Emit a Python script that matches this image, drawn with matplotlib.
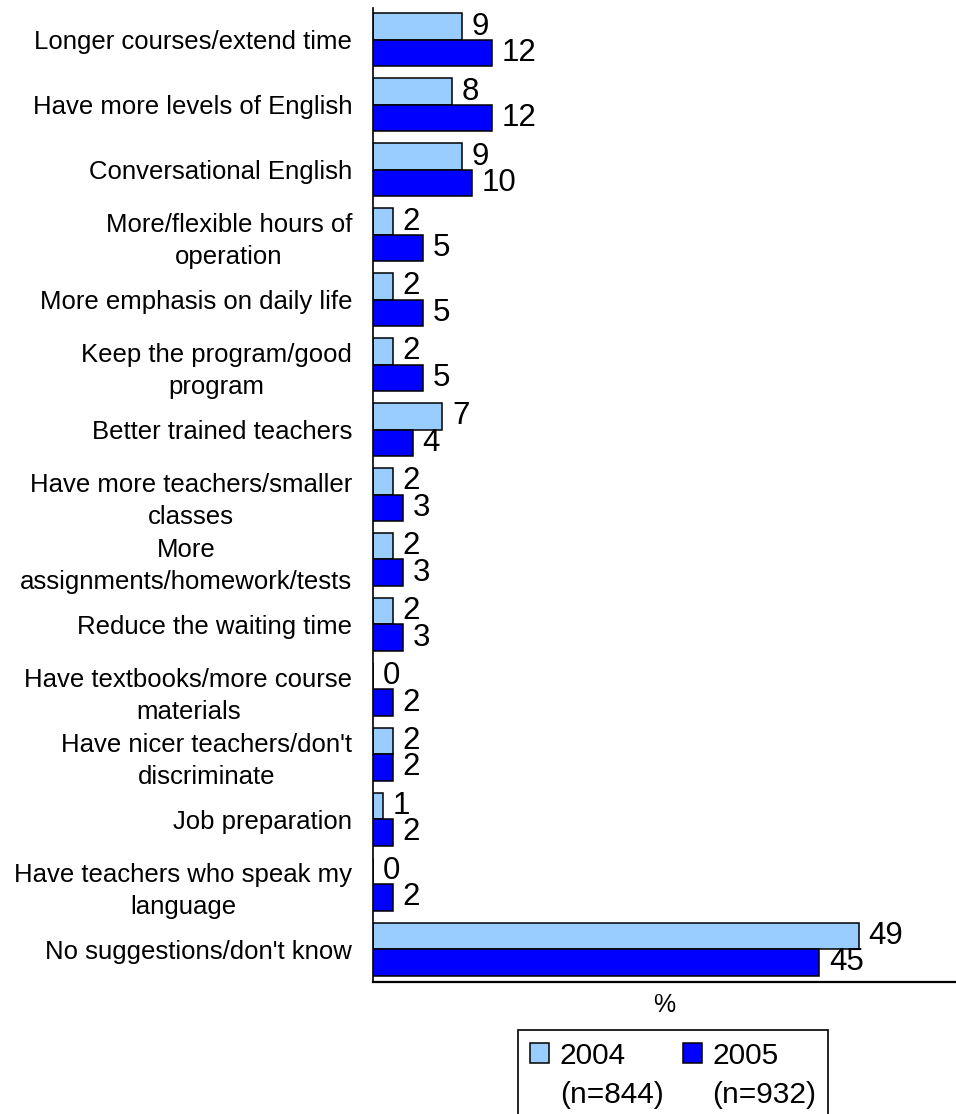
import matplotlib
matplotlib.use("Agg")
import matplotlib.pyplot as plt
import matplotlib.patches as mpatches
from matplotlib.legend_handler import HandlerPatch
import numpy as np

plt.rcParams['font.family'] = ['Liberation Sans', 'DejaVu Sans']

# Suggestions for improving the English program (% of respondents)
categories = [
    "Longer courses/extend time",
    "Have more levels of English",
    "Conversational English",
    "More/flexible hours of\noperation",
    "More emphasis on daily life",
    "Keep the program/good\nprogram",
    "Better trained teachers",
    "Have more teachers/smaller\nclasses",
    "More\nassignments/homework/tests",
    "Reduce the waiting time",
    "Have textbooks/more course\nmaterials",
    "Have nicer teachers/don't\ndiscriminate",
    "Job preparation",
    "Have teachers who speak my\nlanguage",
    "No suggestions/don't know",
]
values_2004 = [9, 8, 9, 2, 2, 2, 7, 2, 2, 2, 0, 2, 1, 0, 49]
values_2005 = [12, 12, 10, 5, 5, 5, 4, 3, 3, 3, 2, 2, 2, 2, 45]
series_labels = ["2004\n(n=844)", "2005\n(n=932)"]

LIGHT = "#99CCFF"
DARK = "#0000FF"

W, H = 956, 1114
fig = plt.figure(figsize=(W / 100, H / 100), dpi=100)
left, right, top, bottom = 373, 956, 7.5, 981.5
ax = fig.add_axes([left / W, 1 - bottom / H, (right - left) / W, (bottom - top) / H])

y = np.arange(len(categories))
bh = 0.408
b1 = ax.barh(y - bh / 2, values_2004, height=bh, color=LIGHT,
             edgecolor="black", linewidth=1.1)
b2 = ax.barh(y + bh / 2, values_2005, height=bh, color=DARK,
             edgecolor="black", linewidth=1.1)

for bars in (b1, b2):
    ax.bar_label(bars, fmt="%d", padding=7, fontsize=22.5)

ax.set_xlim(0, 58.8)
ax.set_ylim(len(categories) - 0.5, -0.5)

ax.set_yticks(y)
ax.set_yticklabels(categories, fontsize=18.5)
for t in ax.get_yticklabels():
    t.set_multialignment("center")
    t.set_linespacing(1.43)
ax.tick_params(axis="y", length=0, pad=15)
ax.set_xticks([])
ax.set_xlabel("%", fontsize=18, labelpad=8)

for side in ("top", "right"):
    ax.spines[side].set_visible(False)
ax.spines["left"].set_linewidth(1.2)
ax.spines["bottom"].set_linewidth(1.6)


def raised_patch(legend, orig_handle, xdescent, ydescent, width, height, fontsize):
    return mpatches.Rectangle((-xdescent, -ydescent + 0.755 * fontsize), width, height)


handles = [mpatches.Patch(facecolor=LIGHT, edgecolor="black", linewidth=1.1),
           mpatches.Patch(facecolor=DARK, edgecolor="black", linewidth=1.1)]
leg = fig.legend(handles, series_labels, loc="upper left",
                 bbox_to_anchor=(518 / W, 1 - 1030 / H),
                 bbox_transform=fig.transFigure, borderaxespad=0,
                 ncol=2, fontsize=21.5, handlelength=0.65, handleheight=0.65,
                 handletextpad=0.35, columnspacing=0.64, borderpad=0.4,
                 fancybox=False, framealpha=1,
                 handler_map={mpatches.Patch: HandlerPatch(patch_func=raised_patch)})
for t in leg.get_texts():
    t.set_linespacing(1.5)
leg.get_frame().set_edgecolor("black")
leg.get_frame().set_linewidth(1.2)

fig.savefig("out.png", dpi=100)
